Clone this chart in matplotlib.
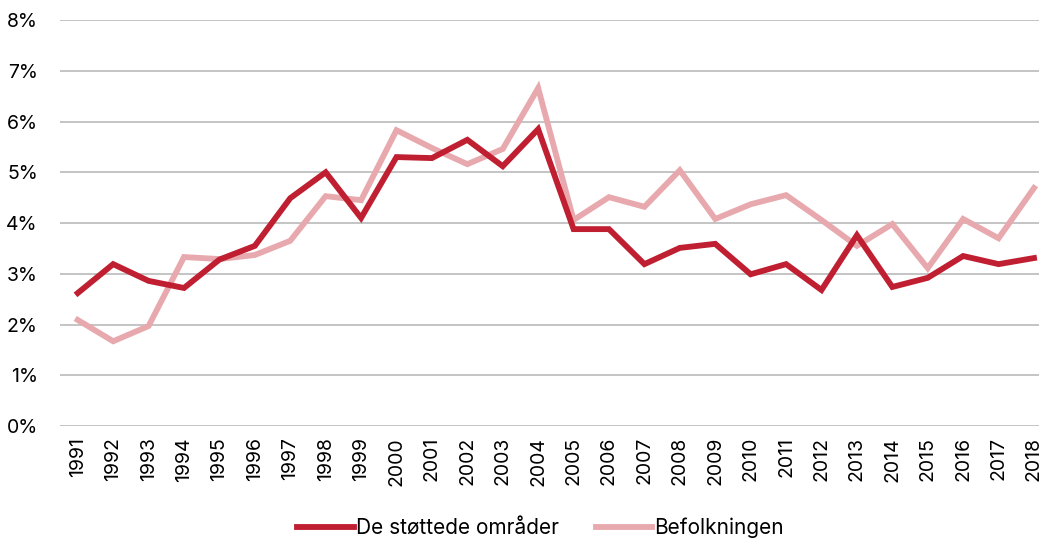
import numpy as np
import matplotlib.pyplot as plt

plt.rcParams['font.family'] = ['Inter', 'DejaVu Sans']

years = list(range(1991, 2019))
stottede = [2.62, 3.19, 2.86, 2.72, 3.28, 3.55, 4.49, 5.00, 4.10, 5.30,
            5.28, 5.64, 5.12, 5.85, 3.88, 3.88, 3.19, 3.51, 3.59, 2.99,
            3.19, 2.68, 3.76, 2.74, 2.92, 3.35, 3.19, 3.31]
befolkningen = [2.09, 1.67, 1.97, 3.33, 3.29, 3.37, 3.65, 4.53, 4.45, 5.83,
                5.48, 5.16, 5.46, 6.66, 4.06, 4.51, 4.32, 5.04, 4.08, 4.37,
                4.55, 4.06, 3.55, 3.98, 3.11, 4.08, 3.70, 4.69]
yticks = [0, 1, 2, 3, 4, 5, 6, 7, 8]

fig = plt.figure(figsize=(10.44, 5.43), dpi=100)
ax = fig.add_axes([0.0575, 0.2155, 0.938, 0.7475])

ax.plot(years, stottede, color='#C01E31', lw=4.2, solid_joinstyle='miter',
        label='De støttede områder', zorder=3)
ax.plot(years, befolkningen, color='#E8A9AE', lw=4.2, solid_joinstyle='miter',
        label='Befolkningen', zorder=2)

ax.set_ylim(0, 8)
ax.set_xlim(1990.5, 2018.15)
ax.set_yticks(yticks)
ax.set_yticklabels([f'{v}%' for v in yticks], fontsize=14)
ax.set_xticks(years)
ax.set_xticklabels([str(y) for y in years], rotation=90, fontsize=14)
ax.tick_params(length=0, pad=8)
ax.tick_params(axis='y', pad=16)
ax.yaxis.grid(True, color='#C4C4C4', lw=1.4)
ax.set_axisbelow(True)
for s in ax.spines.values():
    s.set_visible(False)

fig.legend(*ax.get_legend_handles_labels(), loc='center', bbox_to_anchor=(0.518, 0.028),
           ncol=2, frameon=False, fontsize=15, handlelength=2.7,
           handletextpad=0.1, columnspacing=1.8)

fig.savefig('out.png', dpi=100)
